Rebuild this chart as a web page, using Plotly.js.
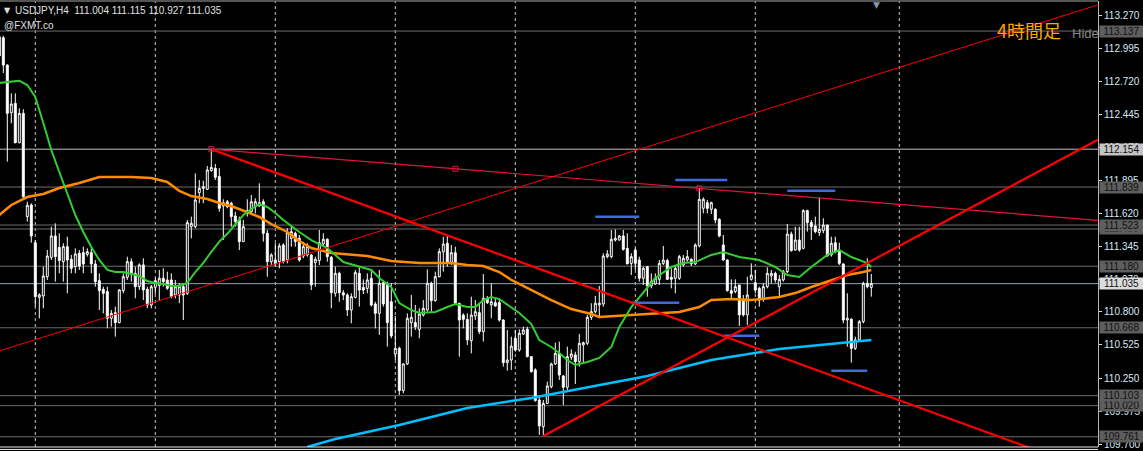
<!DOCTYPE html>
<html><head><meta charset="utf-8">
<script src="https://cdn.plot.ly/plotly-3.0.1.min.js"></script>
<style>html,body{margin:0;padding:0;background:#000;}#chart{width:1143px;height:451px;}</style>
</head><body><div id="chart"></div>
<script>
// ---- DATA (USDJPY H4, bar index -1 .. 217) ----
const symbol = "USDJPY,H4";
const watermark = "@FXMT.co";
const openP = [113.09,113.081,112.854,112.458,112.535,112.208,112.452,111.593,111.690,111.376,110.922,110.933,111.094,111.254,111.432,111.337,111.218,111.343,111.238,111.177,111.288,111.293,111.279,111.293,111.199,111.060,110.988,110.969,110.747,110.794,110.711,110.977,111.088,111.218,111.121,111.010,111.191,110.988,110.858,111.005,111.020,111.080,111.066,111.066,110.941,110.941,111.010,110.955,111.509,111.509,111.792,111.828,111.820,111.975,111.995,111.926,111.681,111.717,111.704,111.598,111.565,111.385,111.620,111.634,111.676,111.681,111.717,111.454,111.218,111.232,111.218,111.357,111.232,111.412,111.454,111.412,111.265,111.274,111.274,111.210,111.227,111.365,111.404,111.254,110.955,111.121,110.960,110.941,110.816,110.921,111.121,111.004,110.996,111.079,110.866,110.788,111.043,111.032,110.885,110.450,110.497,110.145,110.367,110.711,110.711,110.655,110.774,110.816,111.038,110.894,111.093,111.300,111.371,111.204,111.293,110.871,110.774,110.738,110.561,110.766,110.794,110.636,110.913,110.858,110.877,110.877,110.733,110.378,110.400,110.580,110.483,110.616,110.655,110.428,110.317,110.067,109.845,110.039,110.178,110.367,110.455,110.267,110.173,110.422,110.442,110.386,110.525,110.539,110.755,110.802,110.858,110.866,111.260,111.260,111.398,111.398,111.432,111.329,111.204,111.315,111.232,111.080,111.177,111.016,111.032,111.071,111.204,111.227,111.088,111.080,111.080,111.190,111.232,111.238,111.199,111.349,111.662,111.709,111.654,111.654,111.570,111.357,111.232,110.977,110.969,111.024,110.899,110.775,111.071,111.043,110.996,110.905,111.010,111.099,111.121,111.010,111.066,111.135,111.448,111.315,111.398,111.329,111.643,111.543,111.515,111.460,111.476,111.523,111.274,111.376,111.315,111.199,110.733,110.739,110.497,110.567,110.719,111.038,111.004];
const highP = [113.11,113.098,112.860,112.619,112.619,112.494,112.486,111.717,111.704,111.399,110.955,111.177,111.315,111.509,111.537,111.454,111.371,111.426,111.274,111.329,111.315,111.343,111.329,111.329,111.232,111.121,111.010,111.010,110.816,110.844,110.988,111.121,111.260,111.246,111.177,111.204,111.246,111.010,111.024,111.080,111.149,111.163,111.135,111.121,111.066,111.038,111.040,111.565,111.593,111.953,111.898,111.892,112.014,112.154,112.031,111.995,111.737,111.731,111.717,111.634,111.593,111.565,111.737,111.773,111.745,111.870,111.737,111.482,111.288,111.371,111.371,111.371,111.496,111.509,111.468,111.440,111.384,111.371,111.280,111.260,111.482,111.454,111.412,111.265,111.177,111.135,110.982,110.955,110.955,111.149,111.171,111.071,111.121,111.154,110.885,111.149,111.066,111.052,111.038,110.766,110.511,110.372,110.788,110.941,110.858,110.830,110.899,111.154,111.052,111.135,111.329,111.426,111.440,111.357,111.343,110.877,110.788,110.788,110.927,110.899,110.871,111.115,110.932,111.038,110.913,110.913,110.738,110.650,110.594,110.650,110.655,110.677,110.677,110.430,110.331,110.109,110.067,110.220,110.378,110.544,110.553,110.275,110.511,110.489,110.469,110.616,110.553,110.775,110.872,110.933,111.016,111.288,111.315,111.482,111.487,111.440,111.482,111.454,111.288,111.329,111.260,111.177,111.182,111.121,111.121,111.232,111.349,111.243,111.163,111.182,111.274,111.274,111.315,111.246,111.371,111.828,111.753,111.731,111.717,111.662,111.579,111.440,111.238,111.071,111.071,111.024,110.941,111.093,111.204,111.149,111.010,111.038,111.171,111.149,111.135,111.107,111.149,111.532,111.468,111.509,111.509,111.654,111.650,111.565,111.593,111.753,111.579,111.525,111.426,111.426,111.376,111.204,110.955,110.747,110.594,110.733,111.052,111.246,111.115];
const lowP = [112.92,112.788,112.050,112.369,112.203,112.203,111.745,111.551,111.376,110.844,110.747,110.830,111.066,111.232,111.052,111.121,111.052,110.955,111.121,111.121,111.149,111.121,111.260,111.121,111.010,110.816,110.788,110.664,110.678,110.594,110.705,110.955,111.066,111.052,110.913,110.983,110.899,110.830,110.830,110.950,110.899,111.010,110.983,110.913,110.913,110.872,110.733,110.941,111.412,111.496,111.704,111.704,111.815,111.967,111.898,111.634,111.398,111.662,111.509,111.509,111.315,111.385,111.593,111.620,111.620,111.676,111.385,111.093,111.191,111.177,111.163,111.204,111.204,111.343,111.343,111.218,111.246,111.260,110.982,111.010,111.190,111.343,111.218,110.830,110.927,110.885,110.899,110.766,110.705,110.913,110.844,110.949,110.955,110.844,110.663,110.608,110.844,110.511,110.580,110.400,110.109,110.123,110.358,110.594,110.650,110.580,110.761,110.802,110.802,110.885,111.088,111.135,111.177,111.190,110.866,110.428,110.663,110.525,110.455,110.733,110.616,110.553,110.866,110.747,110.844,110.719,110.345,110.311,110.317,110.469,110.469,110.608,110.422,110.295,110.053,109.776,109.768,110.034,110.164,110.358,110.234,110.026,110.137,110.400,110.200,110.345,110.372,110.525,110.733,110.788,110.747,110.844,111.246,111.246,111.385,111.393,111.310,111.199,111.107,111.149,111.052,111.024,110.927,110.996,111.024,111.024,111.190,111.066,110.996,110.955,111.066,111.177,111.218,111.182,111.190,111.337,111.620,111.620,111.615,111.537,111.421,111.227,110.969,110.899,110.955,110.683,110.761,110.691,111.060,110.955,110.844,110.885,110.996,111.038,111.043,110.927,111.052,111.121,111.301,111.310,111.301,111.321,111.468,111.398,111.454,111.432,111.454,111.260,111.260,111.288,111.190,110.705,110.511,110.378,110.483,110.553,110.705,110.996,110.927];
const closeP = [112.93,112.854,112.452,112.530,112.208,112.452,111.759,111.687,111.432,110.927,110.941,111.099,111.265,111.432,111.260,111.227,111.343,111.232,111.163,111.282,111.182,111.199,111.301,111.199,111.052,110.977,110.955,110.747,110.788,110.711,110.983,111.093,111.218,111.121,111.010,111.191,110.983,110.858,111.010,111.060,111.080,111.052,110.996,110.927,111.010,111.010,110.941,111.543,111.537,111.731,111.828,111.842,111.981,112.003,111.920,111.662,111.709,111.676,111.593,111.551,111.385,111.509,111.643,111.717,111.717,111.709,111.454,111.218,111.274,111.199,111.349,111.218,111.460,111.468,111.385,111.232,111.343,111.343,111.024,111.238,111.376,111.404,111.260,110.960,111.121,110.960,110.941,110.816,110.927,111.127,110.982,110.982,111.066,110.858,110.788,111.038,110.866,110.711,110.600,110.497,110.145,110.367,110.747,110.755,110.677,110.783,110.830,111.038,110.894,111.093,111.301,111.365,111.210,111.293,110.871,110.733,110.738,110.566,110.774,110.802,110.636,110.913,110.877,110.885,110.849,110.733,110.378,110.400,110.516,110.483,110.622,110.650,110.428,110.303,110.062,109.851,110.039,110.184,110.367,110.455,110.275,110.173,110.428,110.450,110.386,110.539,110.544,110.755,110.802,110.872,110.872,111.265,111.282,111.404,111.412,111.432,111.321,111.199,111.260,111.204,111.080,111.163,111.016,111.052,111.080,111.204,111.232,111.071,111.071,111.163,111.260,111.246,111.260,111.199,111.357,111.737,111.737,111.662,111.709,111.565,111.432,111.232,110.977,110.955,111.010,110.775,110.775,110.941,111.107,110.982,110.899,111.010,111.121,111.121,111.066,111.071,111.135,111.448,111.310,111.398,111.315,111.643,111.543,111.509,111.468,111.487,111.523,111.265,111.371,111.301,111.204,110.733,110.747,110.497,110.567,110.719,111.038,111.010,111.035];
const firstBar = -1;

// moving averages read at sample bars
const greenX = [-1,4,6,8,10,12,14,16,18,20,22,24,26,28,30,32,34,36,38,40,42,44,46,48,50,52,54,56,58,60,62,64,66,68,70,72,74,77,81,85,89,92,94,97,99,102,104,108,111,113,116,118,120,122,124,127,129,132,134,137,139,141,143,146,149,152,154,157,160,163,167,170,173,177,180,184,189,193,196,199,202,206,209,212,216,217];
const greenY = [112.705,112.724,112.688,112.588,112.372,112.147,111.964,111.789,111.606,111.465,111.340,111.232,111.149,111.132,111.132,111.115,111.099,111.057,111.041,111.032,111.016,111.016,111.041,111.132,111.207,111.300,111.385,111.450,111.530,111.606,111.655,111.698,111.673,111.623,111.565,111.515,111.465,111.398,111.332,111.215,111.174,111.149,111.082,111.007,110.874,110.816,110.791,110.799,110.841,110.866,110.841,110.841,110.899,110.924,110.907,110.841,110.791,110.699,110.566,110.508,110.458,110.400,110.358,110.383,110.417,110.508,110.675,110.841,110.957,111.082,111.174,111.207,111.215,111.274,111.298,111.257,111.232,111.174,111.107,111.090,111.174,111.274,111.315,111.257,111.207,111.174];
const orangeX = [-1,2,6,10,14,19,24,32,37,41,44,47,51,54,57,61,64,67,71,74,77,82,91,97,104,112,116,120,124,127,132,137,142,147,149,157,164,169,174,177,182,187,194,198,202,207,211,215,217];
const orangeY = [111.606,111.690,111.756,111.781,111.831,111.873,111.922,111.922,111.914,111.881,111.806,111.764,111.739,111.706,111.681,111.631,111.590,111.531,111.465,111.390,111.332,111.290,111.265,111.224,111.207,111.207,111.190,111.182,111.132,111.066,110.982,110.899,110.824,110.783,110.758,110.774,110.783,110.799,110.841,110.899,110.907,110.899,110.924,110.957,111.007,111.066,111.107,111.132,111.149];
const blueX = [76,83,99,116,132,141,144,161,177,194,217];
const blueY = [109.676,109.743,109.859,110.001,110.084,110.142,110.159,110.267,110.400,110.491,110.566];

// trend lines: anchor points (bar index, price)
const thinRay   = [[-1,110.475],[273.5,113.353]];
const crimsonTL = [[52,112.154],[174,111.828]];
const downTL    = [[52,112.154],[217,110.150]];
const upTL      = [[135,109.768],[217,111.225]];

// short horizontal segments: [startBar, endBar, price]
const segments = [[148,159,111.592],[168,181,111.898],[196,208,111.808],[157,169,110.877],[180,189,110.602],[207,216,110.311]];

// horizontal price lines
const hLinePrices = [113.137,112.154,111.839,111.523,111.490,111.180,111.035,110.668,110.103,110.020,109.761];
const bidPrice = 111.035, silverLine = 112.154;
// price scale ticks
const tickPrices = [113.270,112.995,112.720,112.445,112.170,111.895,111.620,111.345,111.070,110.800,110.525,110.250,109.975,109.700];
// week separators (bar index)
const weekStarts = [8,38,68,98,128,158,188,224];
const tfLabel = "4時間足", hideLabel = "Hide";

// ---- BUILD ----
const n = openP.length;
const xs = Array.from({length:n}, (_,k)=>firstBar+k);
const last = n-1;

function extend(a, b, xEnd){ const s=(b[1]-a[1])/(b[0]-a[0]); return {x:[a[0], xEnd], y:[a[1], a[1]+s*(xEnd-a[0])]}; }

const traces = [];
traces.push({type:'candlestick', x:xs, open:openP, high:highP, low:lowP, close:closeP,
  increasing:{line:{color:'#ffffff',width:1}, fillcolor:'#000000'},
  decreasing:{line:{color:'#ffffff',width:1}, fillcolor:'#ffffff'},
  whiskerwidth:0, hoverinfo:'skip', showlegend:false});
traces.push({type:'scatter',mode:'lines',x:blueX,y:blueY,line:{color:'#00bfff',width:2.5},hoverinfo:'skip',showlegend:false});
traces.push({type:'scatter',mode:'lines',x:orangeX,y:orangeY,line:{color:'#ff8c00',width:2.5},hoverinfo:'skip',showlegend:false});
traces.push({type:'scatter',mode:'lines',x:greenX,y:greenY,line:{color:'#32cd32',width:2},hoverinfo:'skip',showlegend:false});
segments.forEach(s=>traces.push({type:'scatter',mode:'lines',x:[s[0],s[1]],y:[s[2],s[2]],line:{color:'#4169e1',width:2.5},hoverinfo:'skip',showlegend:false}));
const tr = extend(thinRay[0], thinRay[1], thinRay[1][0]);
traces.push({type:'scatter',mode:'lines',x:tr.x,y:tr.y,line:{color:'#ff0000',width:1},hoverinfo:'skip',showlegend:false});
const cr = extend(crimsonTL[0], crimsonTL[1], 290);
traces.push({type:'scatter',mode:'lines',x:cr.x,y:cr.y,line:{color:'#e0143c',width:1.2},hoverinfo:'skip',showlegend:false});
const dn = extend(downTL[0], downTL[1], 300);
traces.push({type:'scatter',mode:'lines',x:dn.x,y:dn.y,line:{color:'#ff0000',width:2.2},hoverinfo:'skip',showlegend:false});
const up = extend(upTL[0], upTL[1], 300);
traces.push({type:'scatter',mode:'lines',x:up.x,y:up.y,line:{color:'#ff0000',width:2.2},hoverinfo:'skip',showlegend:false});
const midX = (crimsonTL[0][0]+crimsonTL[1][0])/2, midY=(crimsonTL[0][1]+crimsonTL[1][1])/2;
traces.push({type:'scatter',mode:'markers',x:[crimsonTL[0][0],midX,crimsonTL[1][0]],y:[crimsonTL[0][1],midY,crimsonTL[1][1]],
  marker:{symbol:'square-open',size:5,color:'#e0143c',line:{width:1}},cliponaxis:false,hoverinfo:'skip',showlegend:false});

const shapes = [];
weekStarts.forEach(w=>shapes.push({type:'line',xref:'x',yref:'paper',x0:w,x1:w,y0:0,y1:1,layer:'below',line:{color:'#c8c8c8',width:1,dash:'3px,3px'}}));
hLinePrices.forEach(p=>{
  let c='#6e6e6e'; if(p===silverLine) c='#c0c0c0'; if(p===bidPrice) c='#8fa3b8';
  shapes.push({type:'line',xref:'paper',yref:'y',x0:0,x1:1,y0:p,y1:p,layer:'below',line:{color:c,width:1}});
});
shapes.push({type:'line',xref:'paper',yref:'paper',x0:0,x1:1,y0:1,y1:1,line:{color:'#707070',width:1.5}});
shapes.push({type:'line',xref:'paper',yref:'paper',x0:0,x1:1,y0:0,y1:0,line:{color:'#e8e8e8',width:1}});
shapes.push({type:'line',xref:'paper',yref:'paper',x0:0,x1:1,y0:-0.0055,y1:-0.0055,line:{color:'#e8e8e8',width:1}});

const annotations = [];
function txt(px, py, text, font, extra){ annotations.push(Object.assign({xref:'paper',yref:'paper',x:0,y:1,xshift:px,yshift:-(py-1),xanchor:'left',yanchor:'middle',text:text,showarrow:false,font:font},extra||{})); }
const f = v => v.toFixed(3);
txt(2, 10, '▼', {family:'DejaVu Sans',size:8,color:'#e0e0e0'});
txt(13, 10, symbol + '  ' + [openP[last],highP[last],lowP[last],closeP[last]].map(f).join(' '), {family:'Liberation Sans',size:10,color:'#e0e0e0'});
txt(2, 25, watermark, {family:'Liberation Sans',size:10,color:'#e0e0e0'});
txt(995, 30, tfLabel, {family:'Noto Sans CJK JP',size:18,color:'#ffa500'});
txt(1070, 33, hideLabel, {family:'Liberation Sans',size:13,color:'#8a8a8a'});
txt(871, 5, '▼', {family:'DejaVu Sans',size:9,color:'#7f97b0'});

[...hLinePrices].sort((a,b)=>a-b).forEach(p=>{
  let bg='#5e5e5e', fc='#111111';
  if(p===silverLine){bg='#c4c4c4';}
  if(p===bidPrice){bg='#dcdcdc';}
  annotations.push({xref:'paper',yref:'y',x:1,y:p,xanchor:'left',yanchor:'middle',xshift:1,text:f(p),showarrow:false,
    bgcolor:bg,width:43,height:11,borderpad:0,align:'center',font:{family:'Liberation Sans',size:10,color:fc}});
});

const layout = {
  width:1143, height:451, margin:{l:0,r:45,t:1,b:4},
  paper_bgcolor:'#000000', plot_bgcolor:'#000000', showlegend:false,
  xaxis:{range:[-0.825,273.675], showgrid:false, zeroline:false, showticklabels:false, ticks:'', rangeslider:{visible:false}, fixedrange:true},
  yaxis:{range:[109.676,113.387], side:'right', showgrid:false, zeroline:false, tickvals:tickPrices, ticktext:tickPrices.map(f),
    ticks:'outside', ticklen:3, tickcolor:'#dddddd', tickfont:{family:'Liberation Sans',size:10,color:'#d8e8f8'},
    showline:true, linecolor:'#b8b8b8', linewidth:1, fixedrange:true},
  shapes:shapes, annotations:annotations
};
Plotly.newPlot('chart', traces, layout, {staticPlot:true, displayModeBar:false});
</script></body></html>
